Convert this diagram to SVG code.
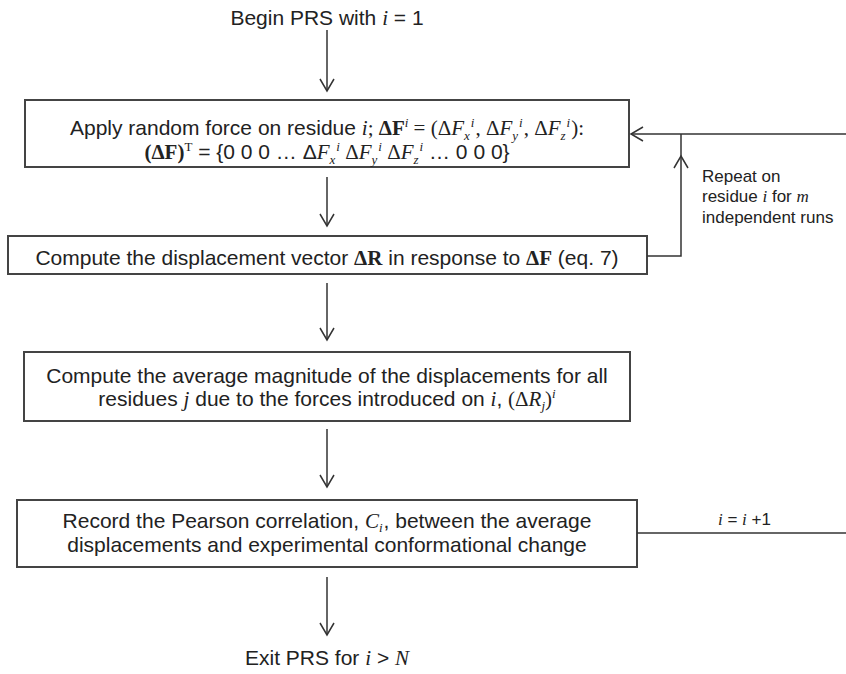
<svg xmlns="http://www.w3.org/2000/svg" width="846" height="674" viewBox="0 0 846 674">
<defs>
<style>
.box{fill:#fff;stroke:#444;stroke-width:2}
.t{font-family:"Liberation Sans",Arial,sans-serif;font-size:21px;fill:#222}
.sm{font-family:"Liberation Sans",Arial,sans-serif;font-size:17px;fill:#222}
.m{font-family:"Liberation Serif","Times New Roman",serif;font-style:italic}
.r{font-family:"Liberation Serif","Times New Roman",serif}
.b{font-family:"Liberation Serif","Times New Roman",serif;font-weight:bold}
.s{font-size:13px}
.c{fill:none;stroke:#333;stroke-width:1.5}
</style>
<marker id="ah" markerUnits="userSpaceOnUse" markerWidth="30" markerHeight="30" refX="0" refY="0" orient="auto" overflow="visible">
<path d="M-12,-7 L0,0 L-12,7" fill="none" stroke="#333" stroke-width="1.5"/>
</marker>
</defs>
<rect width="846" height="674" fill="#fff"/>

<g id="start">
<text class="t" x="327" y="25" text-anchor="middle">Begin PRS with <tspan class="m">i</tspan> = 1</text>
</g>

<g id="apply-force">
<rect class="box" x="25" y="100" width="604" height="67"/>
<text class="t" x="327" y="135" text-anchor="middle">Apply random force on residue <tspan class="m">i</tspan><tspan class="r">; </tspan><tspan class="b">ΔF</tspan><tspan class="m s" dy="-8">i</tspan><tspan class="r" dy="8"> = (Δ</tspan><tspan class="m">F</tspan><tspan class="m s" dy="5">x</tspan><tspan class="m s" dx="1" dy="-13">i</tspan><tspan class="r" dx="1" dy="8">, Δ</tspan><tspan class="m">F</tspan><tspan class="m s" dy="5">y</tspan><tspan class="m s" dx="1" dy="-13">i</tspan><tspan class="r" dx="1" dy="8">, Δ</tspan><tspan class="m">F</tspan><tspan class="m s" dy="5">z</tspan><tspan class="m s" dx="1" dy="-13">i</tspan><tspan class="r" dx="1" dy="8">):</tspan></text>
<text class="t" x="327" y="159" text-anchor="middle"><tspan class="b">(ΔF)</tspan><tspan class="r s" dy="-8">T</tspan><tspan dy="8"> = {0 0 0 … Δ</tspan><tspan class="m">F</tspan><tspan class="m s" dy="5">x</tspan><tspan class="m s" dx="1" dy="-13">i</tspan><tspan class="r" dy="8"> Δ</tspan><tspan class="m">F</tspan><tspan class="m s" dy="5">y</tspan><tspan class="m s" dx="1" dy="-13">i</tspan><tspan class="r" dy="8"> Δ</tspan><tspan class="m">F</tspan><tspan class="m s" dy="5">z</tspan><tspan class="m s" dx="1" dy="-13">i</tspan><tspan dy="8"> … 0 0 0}</tspan></text>
</g>

<g id="compute-displacement">
<rect class="box" x="8" y="236" width="639" height="38"/>
<text class="t" x="327" y="265" text-anchor="middle">Compute the displacement vector <tspan class="b">ΔR</tspan> in response to <tspan class="b">ΔF</tspan> (eq. 7)</text>
</g>

<g id="average-magnitude">
<rect class="box" x="24" y="352" width="606" height="69"/>
<text class="t" x="327" y="383" text-anchor="middle">Compute the average magnitude of the displacements for all</text>
<text class="t" x="327" y="406" text-anchor="middle">residues <tspan class="m">j</tspan> due to the forces introduced on <tspan class="m">i</tspan>, <tspan class="r">(Δ</tspan><tspan class="m">R</tspan><tspan class="m s" dy="4">j</tspan><tspan class="r" dy="-4">)</tspan><tspan class="m s" dy="-8">i</tspan></text>
</g>

<g id="record-correlation">
<rect class="box" x="17" y="500" width="620" height="67"/>
<text class="t" x="327" y="528" text-anchor="middle">Record the Pearson correlation, <tspan class="m">C</tspan><tspan class="m s" dy="4">i</tspan><tspan dx="1" dy="-4">, between the average</tspan></text>
<text class="t" x="327" y="552" text-anchor="middle">displacements and experimental conformational change</text>
</g>

<g id="end">
<text class="t" x="327" y="665" text-anchor="middle">Exit PRS for <tspan class="m">i</tspan> &gt; <tspan class="m">N</tspan></text>
</g>

<g id="connectors">
<path class="c" d="M327,30 V91" marker-end="url(#ah)"/>
<path class="c" d="M327,177 V226" marker-end="url(#ah)"/>
<path class="c" d="M327,283 V340" marker-end="url(#ah)"/>
<path class="c" d="M327,429 V487" marker-end="url(#ah)"/>
<path class="c" d="M327,577 V635" marker-end="url(#ah)"/>
<path class="c" d="M647,256 H681 V156" marker-end="url(#ah)"/>
<path class="c" d="M681,156 V134"/>
<path class="c" d="M846,134 H631" marker-end="url(#ah)"/>
<path class="c" d="M637,533 H846"/>
<text class="sm" x="702" y="182">Repeat on</text>
<text class="sm" x="702" y="202">residue <tspan class="m">i</tspan> for <tspan class="m">m</tspan></text>
<text class="sm" x="702" y="223">independent runs</text>
<text class="sm" x="718" y="525"><tspan class="m">i</tspan> = <tspan class="m">i</tspan> +1</text>
</g>
</svg>
